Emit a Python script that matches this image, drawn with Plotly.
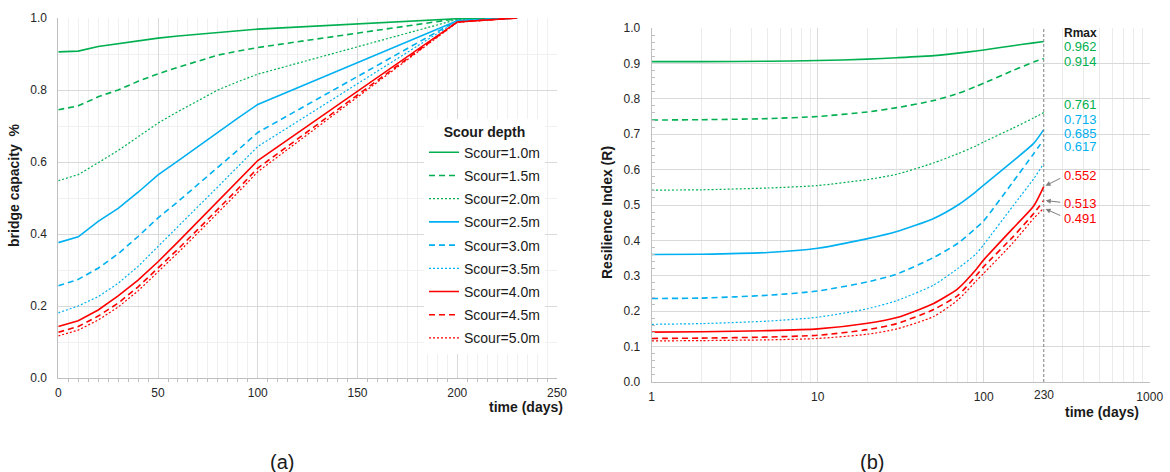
import numpy as np
import plotly.graph_objects as go

# ---------------- data ----------------
scour_names = ["Scour=1.0m", "Scour=1.5m", "Scour=2.0m", "Scour=2.5m", "Scour=3.0m",
               "Scour=3.5m", "Scour=4.0m", "Scour=4.5m", "Scour=5.0m"]

# (a) bridge capacity vs time (days)
days = [0, 10, 20, 30, 40, 50, 60, 70, 80, 90, 100, 200, 230]
cap_10 = [0.906, 0.908, 0.921, 0.929, 0.936, 0.944, 0.950, 0.955, 0.961, 0.965, 0.969, 0.998, 1.0]
cap_15 = [0.745, 0.756, 0.781, 0.800, 0.824, 0.845, 0.863, 0.880, 0.897, 0.908, 0.918, 0.998, 1.0]
cap_20 = [0.548, 0.565, 0.598, 0.632, 0.670, 0.708, 0.740, 0.770, 0.800, 0.823, 0.844, 0.996, 1.0]
cap_25 = [0.376, 0.392, 0.435, 0.471, 0.516, 0.564, 0.603, 0.643, 0.684, 0.722, 0.760, 0.992, 1.0]
cap_30 = [0.256, 0.274, 0.305, 0.345, 0.393, 0.445, 0.490, 0.537, 0.585, 0.633, 0.682, 0.993, 1.0]
cap_35 = [0.181, 0.200, 0.226, 0.263, 0.310, 0.366, 0.421, 0.476, 0.531, 0.587, 0.643, 0.992, 1.0]
cap_40 = [0.143, 0.159, 0.189, 0.228, 0.272, 0.323, 0.378, 0.434, 0.490, 0.548, 0.604, 0.989, 1.0]
cap_45 = [0.127, 0.143, 0.172, 0.208, 0.253, 0.305, 0.358, 0.413, 0.468, 0.525, 0.583, 0.989, 1.0]
cap_50 = [0.117, 0.133, 0.161, 0.197, 0.242, 0.294, 0.348, 0.403, 0.458, 0.515, 0.573, 0.988, 1.0]

# (b) resilience index vs time (days, log axis)
t_days = [1, 2, 5, 10, 20, 30, 50, 70, 90, 100, 150, 200, 230]
R_10 = [0.905, 0.905, 0.906, 0.908, 0.912, 0.916, 0.922, 0.929, 0.935, 0.938, 0.950, 0.958, 0.962]
R_15 = [0.740, 0.741, 0.744, 0.750, 0.763, 0.775, 0.795, 0.815, 0.835, 0.844, 0.880, 0.904, 0.914]
R_20 = [0.542, 0.543, 0.548, 0.555, 0.572, 0.587, 0.619, 0.645, 0.667, 0.678, 0.717, 0.746, 0.761]
R_25 = [0.360, 0.361, 0.366, 0.378, 0.405, 0.425, 0.462, 0.500, 0.538, 0.556, 0.624, 0.674, 0.713]
R_30 = [0.236, 0.237, 0.245, 0.257, 0.283, 0.305, 0.352, 0.392, 0.435, 0.455, 0.565, 0.645, 0.685]
R_35 = [0.163, 0.165, 0.172, 0.183, 0.207, 0.230, 0.274, 0.321, 0.362, 0.388, 0.497, 0.574, 0.617]
R_40 = [0.141, 0.142, 0.145, 0.150, 0.166, 0.182, 0.222, 0.264, 0.318, 0.345, 0.434, 0.497, 0.552]
R_45 = [0.123, 0.124, 0.127, 0.132, 0.148, 0.165, 0.205, 0.245, 0.300, 0.326, 0.410, 0.476, 0.513]
R_50 = [0.116, 0.117, 0.119, 0.123, 0.135, 0.150, 0.185, 0.232, 0.285, 0.307, 0.393, 0.462, 0.491]

T_END = 230
x_ticks_b = [1, 10, 100, 1000]
rmax_values = [0.962, 0.914, 0.761, 0.713, 0.685, 0.617, 0.552, 0.513, 0.491]

# ---------------- styles ----------------
GREEN, BLUE, RED = "#00B050", "#00B0F0", "#FF0000"
colors = [GREEN] * 3 + [BLUE] * 3 + [RED] * 3
dashes = ["solid", "6px,4px", "2px,2px"] * 3
widths = [1.6, 1.6, 1.2] * 3

caps = [cap_10, cap_15, cap_20, cap_25, cap_30, cap_35, cap_40, cap_45, cap_50]
Rs = [R_10, R_15, R_20, R_25, R_30, R_35, R_40, R_45, R_50]

FONT = "Liberation Sans, Arial, sans-serif"
W, H = 1170, 472

# plot-area pixel boxes
A_L, A_R, A_T, A_B = 58.3, 557.0, 18.0, 378.0
B_L, B_R, B_T, B_B = 651.7, 1149.7, 28.0, 382.0


def px(xp):
    return xp / W


def py(yp):
    return 1 - yp / H


fig = go.Figure()

for i in range(9):
    fig.add_trace(go.Scatter(
        x=days, y=caps[i], mode="lines", name=scour_names[i],
        legendgroup=f"g{i}",
        line=dict(color=colors[i], dash=dashes[i], width=widths[i]),
        xaxis="x", yaxis="y", hoverinfo="skip"))

for i in range(9):
    fig.add_trace(go.Scatter(
        x=t_days, y=Rs[i], mode="lines", showlegend=False,
        line=dict(color=colors[i], dash=dashes[i], width=widths[i],
                  shape="spline", smoothing=0.6),
        xaxis="x2", yaxis="y2", hoverinfo="skip"))

# vertical marker at T_END
fig.add_trace(go.Scatter(
    x=[T_END, T_END], y=[0, 1], mode="lines", showlegend=False,
    line=dict(color="#808080", dash="3px,2px", width=1),
    xaxis="x2", yaxis="y2", hoverinfo="skip"))

GRID = "#D9D9D9"
MINOR = "#F0F0F0"
AXLINE = "#BFBFBF"
TICKF = dict(family=FONT, size=12, color="#262626")

fig.update_layout(
    width=W, height=H, autosize=False,
    margin=dict(l=0, r=0, t=0, b=0, pad=0),
    paper_bgcolor="white", plot_bgcolor="white",
    font=dict(family=FONT, size=12, color="#262626"),
    xaxis=dict(domain=[px(A_L), px(A_R)], range=[0, 250], dtick=50,
               showgrid=True, gridcolor=GRID, gridwidth=1,
               showline=True, linecolor=AXLINE, linewidth=1,
               ticks="", tickfont=TICKF, zeroline=False, automargin=False,
               ticklabelstandoff=4,
               minor=dict(dtick=5, showgrid=True, gridcolor=MINOR,
                          ticks="outside", ticklen=3, tickcolor=AXLINE),
               anchor="y"),
    yaxis=dict(domain=[py(A_B), py(A_T)], range=[0, 1], dtick=0.2, tickformat=".1f",
               showgrid=True, gridcolor=GRID, gridwidth=1,
               showline=True, linecolor=AXLINE, linewidth=1,
               ticks="", tickfont=TICKF, zeroline=False, automargin=False,
               ticklabelstandoff=8,
               minor=dict(dtick=0.1, showgrid=True, gridcolor=MINOR),
               anchor="x"),
    xaxis2=dict(domain=[px(B_L), px(B_R)], type="log", range=[0, 3],
                tickmode="array", tickvals=x_ticks_b,
                ticktext=[str(v) for v in x_ticks_b],
                showgrid=True, gridcolor=GRID, gridwidth=1,
                showline=True, linecolor=AXLINE, linewidth=1, mirror=False,
                ticks="", tickfont=TICKF, zeroline=False, automargin=False,
                ticklabelstandoff=4,
                minor=dict(tickmode="array",
                           tickvals=[d * m for m in (1, 10, 100) for d in range(2, 10)],
                           showgrid=True, gridcolor="#EBEBEB"),
                anchor="y2"),
    yaxis2=dict(domain=[py(B_B), py(B_T)], range=[0, 1], dtick=0.1, tickformat=".1f",
                showgrid=True, gridcolor=GRID, gridwidth=1,
                showline=True, linecolor=AXLINE, linewidth=1,
                ticks="", tickfont=TICKF, zeroline=False, automargin=False,
                ticklabelstandoff=8,
                minor=dict(dtick=0.02, ticks="inside", ticklen=3, tickcolor=AXLINE,
                           showgrid=False),
                anchor="x2"),
    legend=dict(x=px(424), y=py(118.5), xanchor="left", yanchor="top",
                bgcolor="white", borderwidth=0,
                font=dict(family=FONT, size=14, color="#1a1a1a"),
                title=dict(text="<b>Scour depth</b>", side="top center",
                           font=dict(family=FONT, size=14, color="#1a1a1a")),
                tracegroupgap=2, itemwidth=30),
)


def txt(text, x, y, size, color="#1a1a1a", xanchor="center", angle=0):
    return dict(text=text, x=px(x), y=py(y), xref="paper", yref="paper",
                xanchor=xanchor, yanchor="middle", textangle=angle,
                showarrow=False, font=dict(size=size, color=color))


ann = []
# axis titles
ann.append(txt("<b>bridge capacity\u00a0\u00a0%</b>", 14, 186, 14, angle=-90))
ann.append(txt("<b>time (days)</b>", 526, 407, 14))
ann.append(txt("<b>Resilience Index (R)</b>", 607, 213, 14, angle=-90))
ann.append(txt("<b>time (days)</b>", 1102, 412, 14))
ann.append(dict(text=str(T_END), x=np.log10(T_END), xref="x2", y=py(395), yref="paper",
                xanchor="center", yanchor="middle",
                showarrow=False, font=dict(size=12, color="#262626")))
# panel labels
ann.append(txt("(a)", 282, 462, 20))
ann.append(txt("(b)", 872, 462, 20))
# Rmax labels
ann.append(txt("<b>Rmax</b>", 1062, 33, 12, xanchor="left"))
label_y_px = [47, 62, 105, 119, 133, 147, 175, 204, 218]
for i, v in enumerate(rmax_values):
    ann.append(txt(f"{v:.3f}", 1062, label_y_px[i], 13, color=colors[i], xanchor="left"))
# arrows for the three red values
arrow_ay = [-9, 2, 8]
for k, i in enumerate([6, 7, 8]):
    ann.append(dict(text="", x=np.log10(T_END), y=Rs[i][-1], xref="x2", yref="y2",
                    showarrow=True, arrowhead=2, arrowsize=1, arrowwidth=1,
                    arrowcolor="#7F7F7F", ax=18, ay=arrow_ay[k], standoff=2))
fig.update_layout(annotations=ann)

fig.write_html("out.html")
